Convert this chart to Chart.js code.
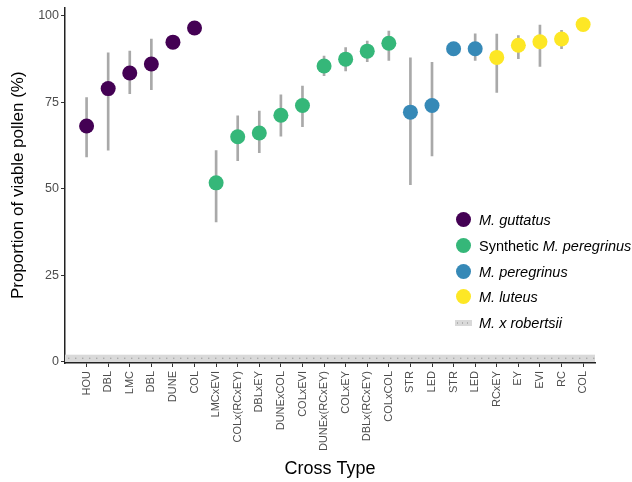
<!DOCTYPE html>
<html>
<head>
<meta charset="utf-8">
<script src="https://cdn.jsdelivr.net/npm/chart.js@4/dist/chart.umd.min.js"></script>
<style>
  body { margin: 0; background: #fff; }
  #wrap { position: relative; width: 632px; height: 482px; }
  .legend { position: absolute; left: 455px; top: 210px; font-family: "Liberation Sans", Arial, sans-serif; font-size: 14.5px; color: #000; }
  .legend .row { position: absolute; left: 0; height: 20px; line-height: 20px; white-space: nowrap; }
  .legend .dot { position: absolute; left: 1px; top: 2px; width: 15px; height: 15px; border-radius: 50%; }
  .legend .band { position: absolute; left: 0; top: 7px; width: 17px; height: 6px; background: #d9d9d9;
    background-image: radial-gradient(circle, #b0b0b0 0.8px, transparent 1px); background-size: 5px 6px; }
  .legend .txt { position: absolute; left: 24px; top: 0; }
</style>
</head>
<body>
<div id="wrap">
  <canvas id="pollenChart" width="632" height="482"></canvas>
  <div class="legend" id="legend"></div>
</div>
<script>
const categories = ['HOU', 'DBL', 'LMC', 'DBL', 'DUNE', 'COL', 'LMCxEVI', 'COLx(RCxEY)', 'DBLxEY', 'DUNExCOL',
  'COLxEVI', 'DUNEx(RCxEY)', 'COLxEY', 'DBLx(RCxEY)', 'COLxCOL', 'STR', 'LED', 'STR', 'LED', 'RCxEY', 'EY', 'EVI', 'RC', 'COL'];
const groups = ['gut', 'gut', 'gut', 'gut', 'gut', 'gut', 'syn', 'syn', 'syn', 'syn',
  'syn', 'syn', 'syn', 'syn', 'syn', 'per', 'per', 'per', 'per', 'lut', 'lut', 'lut', 'lut', 'lut'];
const viability = [68.1, 78.9, 83.4, 86.0, 92.3, 96.4, 51.7, 65.0, 66.1, 71.2,
  74.0, 85.4, 87.4, 89.7, 92.0, 72.1, 74.0, 90.4, 90.4, 87.9, 91.4, 92.4, 93.2, 97.4];
const errLow = [59.2, 61.1, 77.4, 78.6, null, null, 40.4, 58.1, 60.4, 65.2,
  67.9, 82.6, 84.0, 86.7, 87.0, 51.2, 59.5, null, 87.0, 77.8, 87.5, 85.3, 90.4, null];
const errHigh = [76.3, 89.2, 89.7, 93.2, null, null, 61.0, 71.0, 72.4, 77.1,
  79.6, 88.3, 90.7, 92.6, 95.5, 87.8, 86.5, null, 94.7, 94.6, 94.2, 97.2, 95.7, null];
const robertsiiBand = [0, 2.1];
const yTicks = [0, 25, 50, 75, 100];

const groupKeys = ['gut', 'syn', 'per', 'lut'];
const groupColors = { gut: '#440154', syn: '#35b779', per: '#3689b7', lut: '#fde725' };
const groupNames = {
  gut: '<i>M. guttatus</i>',
  syn: 'Synthetic <i>M. peregrinus</i>',
  per: '<i>M. peregrinus</i>',
  lut: '<i>M. luteus</i>'
};

const pointSets = groupKeys.map(function(g) {
  return {
    type: 'scatter',
    data: categories.map(function(c, i) { return { x: i, y: viability[i] }; })
      .filter(function(p, i) { return groups[i] === g; }),
    backgroundColor: groupColors[g],
    borderWidth: 0,
    pointRadius: 7.5,
    pointHoverRadius: 7.5,
    order: 1
  };
});

const errorSet = {
  type: 'bar',
  data: categories.map(function(c, i) { return { x: i, y: [errLow[i], errHigh[i]] }; })
    .filter(function(p, i) { return errLow[i] !== null; }),
  backgroundColor: '#a9a9a9',
  barThickness: 2,
  order: 2
};

// grey band for M. x robertsii, drawn behind everything
const bandPlugin = {
  id: 'band',
  beforeDatasetsDraw(chart) {
    const { ctx, chartArea, scales } = chart;
    const y0 = scales.y.getPixelForValue(robertsiiBand[0]);
    const y1 = scales.y.getPixelForValue(robertsiiBand[1]);
    ctx.save();
    ctx.fillStyle = '#d9d9d9';
    ctx.fillRect(chartArea.left, y1, chartArea.right - chartArea.left, y0 - y1);
    ctx.fillStyle = '#ababab';
    const ym = (y0 + y1) / 2;
    for (let x = chartArea.left + 3; x < chartArea.right; x += 7) {
      ctx.fillRect(x, ym - 0.7, 1.4, 1.4);
    }
    ctx.restore();
  }
};

const tickFont = { family: 'Liberation Sans', size: 11 };

new Chart(document.getElementById('pollenChart'), {
  data: { datasets: [errorSet].concat(pointSets) },
  options: {
    responsive: false,
    animation: false,
    events: [],
    layout: { padding: { left: 0, top: 3, right: 37, bottom: 0 } },
    plugins: { legend: { display: false }, tooltip: { enabled: false } },
    scales: {
      x: {
        type: 'linear',
        offset: false,
        min: -1,
        max: 23.55,
        afterBuildTicks: function(scale) {
          scale.ticks = categories.map(function(c, i) { return { value: i }; });
        },
        afterFit: function(scale) { scale.height = 119; },
        ticks: {
          autoSkip: false,
          minRotation: 90,
          maxRotation: 90,
          padding: 4,
          color: '#4d4d4d',
          font: tickFont,
          callback: function(v) { return categories[v]; }
        },
        grid: { drawOnChartArea: false, offset: false, tickLength: 4, tickColor: '#333', tickWidth: 1 },
        border: { color: '#222', width: 1.5 },
        title: {
          display: true,
          text: 'Cross Type',
          color: '#000',
          font: { family: 'Liberation Sans', size: 18 },
          padding: { top: 0, bottom: 2 }
        }
      },
      y: {
        type: 'linear',
        min: -0.3,
        max: 102.3,
        afterBuildTicks: function(scale) {
          scale.ticks = yTicks.map(function(v) { return { value: v }; });
        },
        afterFit: function(scale) {
          scale.width = 65;
          scale.paddingTop = 0;
          scale.paddingBottom = 0;
        },
        ticks: {
          padding: 2,
          color: '#4d4d4d',
          font: { family: 'Liberation Sans', size: 12.5 }
        },
        grid: { drawOnChartArea: false, tickLength: 4, tickColor: '#333', tickWidth: 1 },
        border: { color: '#222', width: 1.5 },
        title: {
          display: true,
          text: 'Proportion of viable pollen (%)',
          color: '#000',
          font: { family: 'Liberation Sans', size: 17 },
          padding: { top: 8, bottom: 0 }
        }
      }
    }
  },
  plugins: [bandPlugin]
});

// legend built in HTML so species names can be italic
const legend = document.getElementById('legend');
groupKeys.forEach(function(g, k) {
  const row = document.createElement('div');
  row.className = 'row';
  row.style.top = (k * 25.8) + 'px';
  row.innerHTML = '<span class="dot" style="background:' + groupColors[g] + '"></span><span class="txt">' + groupNames[g] + '</span>';
  legend.appendChild(row);
});
const bandRow = document.createElement('div');
bandRow.className = 'row';
bandRow.style.top = (4 * 25.8) + 'px';
bandRow.innerHTML = '<span class="band"></span><span class="txt"><i>M. x robertsii</i></span>';
legend.appendChild(bandRow);
</script>
</body>
</html>
